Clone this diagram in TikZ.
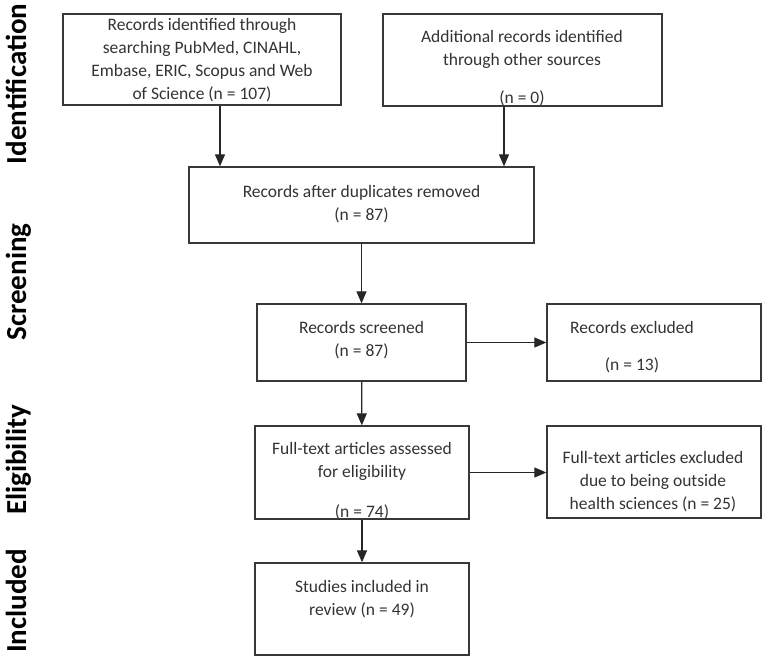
\documentclass[tikz,border=0pt]{standalone}
\usepackage{fontspec}
\setmainfont{Carlito}
\usetikzlibrary{arrows.meta}
\tikzset{
  box/.style={draw=black!78, line width=1.3pt, rectangle, inner sep=0pt},
  txt/.style={anchor=north, inner sep=0pt, align=center, text=black!80,
    font=\fontsize{17.5}{23}\selectfont},
  side/.style={anchor=base, rotate=90, inner sep=0pt,
    font=\fontsize{29}{32}\selectfont\bfseries},
  arr/.style={draw=black!85, line width=1.2pt, -{Triangle[width=10pt,length=12pt]}}
}
\begin{document}
\begin{tikzpicture}[x=1pt, y=-1pt]
      \useasboundingbox (0,0) rectangle (763,658);
      % stage labels
      \node[side] (ident) at (26,84) {Identification};
      \node[side] (screen) at (26,282) {Screening};
      \node[side] (elig) at (26,460) {Eligibility};
      \node[side] (incl) at (26,601) {Included};
      % frames
      \node[box, minimum width=278pt, minimum height=91pt] (A) at (202,59.5) {};
      \node[box, minimum width=279pt, minimum height=92pt] (B) at (522.5,60) {};
      \node[box, minimum width=345pt, minimum height=76pt] (C) at (361.5,205) {};
      \node[box, minimum width=209pt, minimum height=77pt] (D) at (361.5,342.5) {};
      \node[box, minimum width=214pt, minimum height=77pt] (E) at (654,342.5) {};
      \node[box, minimum width=214pt, minimum height=93pt] (F) at (362,472.5) {};
      \node[box, minimum width=214pt, minimum height=92pt] (G) at (654,472) {};
      \node[box, minimum width=214pt, minimum height=92pt] (H) at (362,609) {};
      % texts
      \node[txt] (Atext) at (202,18.5) {Records identified through\\searching PubMed, CINAHL,\\Embase, ERIC, Scopus and Web\\of Science (n = 107)};
      \node[txt] (Btext) at (522,30.5) {Additional records identified\\through other sources\\[15pt](n = 0)};
      \node[txt] (Ctext) at (361.5,185.5) {Records after duplicates removed\\(n = 87)};
      \node[txt] (Dtext) at (361.5,321.5) {Records screened\\(n = 87)};
      \node[txt] (Etext) at (632,321.5) {Records excluded\\[14pt](n = 13)};
      \node[txt] (Ftext) at (362,442.5) {Full-text articles assessed\\for eligibility\\[17pt](n = 74)};
      \node[txt] (Gtext) at (653,451.5) {Full-text articles excluded\\due to being outside\\health sciences (n = 25)};
      \node[txt] (Htext) at (362,580.5) {Studies included in\\review (n = 49)};
      % flow
      \begin{scope}[arr]
        \draw ([xshift=18pt]A.south) -- ([xshift=18pt]A.south |- C.north);
        \draw ([xshift=-18.5pt]B.south) -- ([xshift=-18.5pt]B.south |- C.north);
        \draw (C) -- (D);
        \draw (D) -- (E);
        \draw (D) -- (F);
        \draw (F.east) -- (F.east -| G.west);
        \draw (F) -- (H);
      \end{scope}
    \end{tikzpicture}
\end{document}
